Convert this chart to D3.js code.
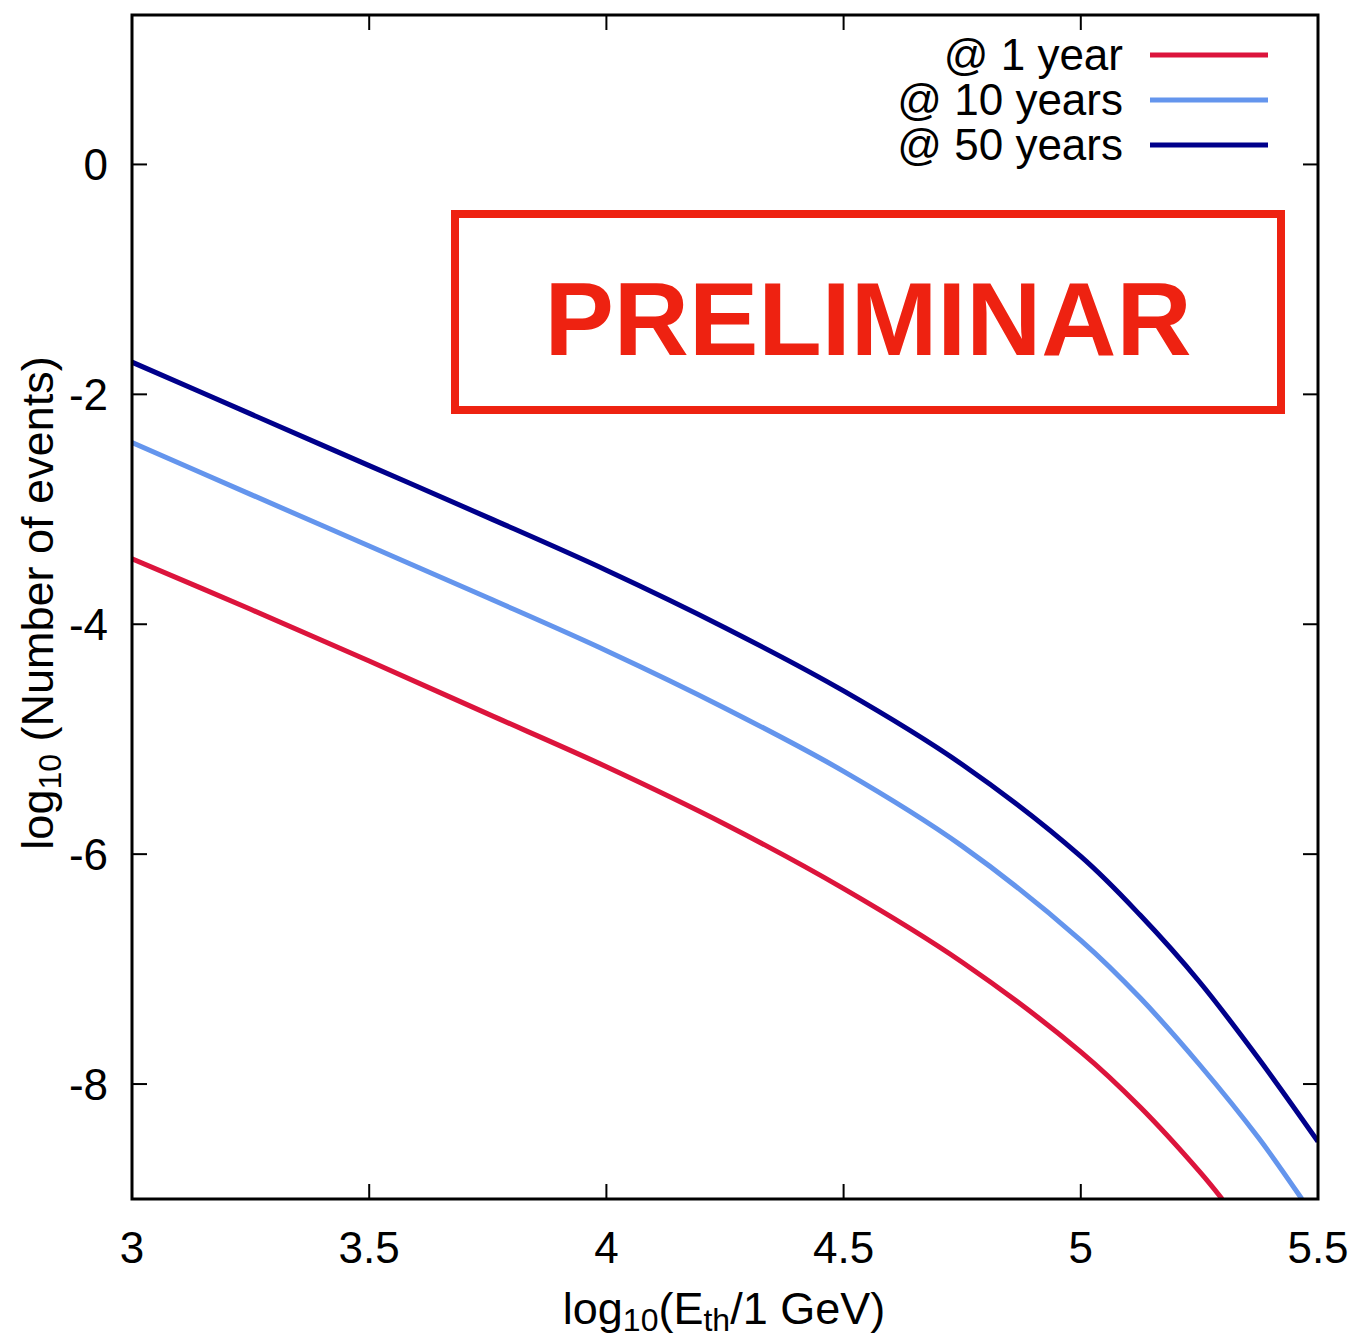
<!DOCTYPE html>
<html>
<head>
<meta charset="utf-8">
<script src="https://cdn.jsdelivr.net/npm/d3@7"></script>
<style>
  body { margin: 0; background: #fff; }
  text { font-family: "Liberation Sans", Arial, Helvetica, sans-serif; }
</style>
</head>
<body>
<div id="chart"></div>
<script>
// values (log10 Eth vs log10 N)
const xs1 = [3.0, 3.25, 3.5, 3.75, 4.0, 4.25, 4.5, 4.75, 5.0, 5.125, 5.25, 5.298];
const yr1 = [-3.43, -3.87, -4.32, -4.78, -5.24, -5.74, -6.30, -6.94, -7.72, -8.20, -8.76, -9.0];

const xs10 = [3.0, 3.25, 3.5, 3.75, 4.0, 4.25, 4.5, 4.75, 5.0, 5.125, 5.25, 5.375, 5.466];
const yr10 = [-2.42, -2.87, -3.32, -3.77, -4.23, -4.73, -5.28, -5.93, -6.75, -7.25, -7.83, -8.47, -9.0];

const xs50 = [3.0, 3.25, 3.5, 3.75, 4.0, 4.25, 4.5, 4.75, 5.0, 5.125, 5.25, 5.375, 5.5];
const yr50 = [-1.72, -2.17, -2.62, -3.07, -3.53, -4.03, -4.58, -5.22, -6.02, -6.53, -7.11, -7.78, -8.5];

const seriesNames = ['@ 1 year', '@ 10 years', '@ 50 years'];
const seriesColors = ['#dc143c', '#6495ed', '#00008b'];

const xTicks = [3, 3.5, 4, 4.5, 5, 5.5];
const yTicks = [0, -2, -4, -6, -8];

const W = 1361, H = 1340;
const m = { left: 132, right: 1318, top: 15, bottom: 1199 };

const svg = d3.select('#chart').append('svg')
    .attr('width', W)
    .attr('height', H);

const x = d3.scaleLinear().domain([3, 5.5]).range([m.left, m.right]);
const y = d3.scaleLinear().domain([-9, 1.3]).range([m.bottom, m.top]);

svg.append('clipPath').attr('id', 'clip')
  .append('rect')
    .attr('x', m.left).attr('y', m.top)
    .attr('width', m.right - m.left).attr('height', m.bottom - m.top);

// ticks (inward, mirrored on top/right)
const tickLen = 15;
const axes = svg.append('g').attr('stroke', '#000').attr('stroke-width', 2);
xTicks.forEach(t => {
    axes.append('line').attr('x1', x(t)).attr('x2', x(t)).attr('y1', m.bottom).attr('y2', m.bottom - tickLen);
    axes.append('line').attr('x1', x(t)).attr('x2', x(t)).attr('y1', m.top).attr('y2', m.top + tickLen);
});
yTicks.forEach(t => {
    axes.append('line').attr('x1', m.left).attr('x2', m.left + tickLen).attr('y1', y(t)).attr('y2', y(t));
    axes.append('line').attr('x1', m.right).attr('x2', m.right - tickLen).attr('y1', y(t)).attr('y2', y(t));
});

// tick labels
svg.append('g').selectAll('text')
    .data(xTicks).enter().append('text')
    .attr('x', d => x(d))
    .attr('y', 1263)
    .attr('text-anchor', 'middle')
    .attr('font-size', 44)
    .text(d => d);

svg.append('g').selectAll('text')
    .data(yTicks).enter().append('text')
    .attr('x', 108)
    .attr('y', d => y(d) + 16)
    .attr('text-anchor', 'end')
    .attr('font-size', 44)
    .text(d => d);

// axis titles
const xt = svg.append('text')
    .attr('x', 724).attr('y', 1324)
    .attr('text-anchor', 'middle')
    .attr('font-size', 45);
xt.append('tspan').text('log');
xt.append('tspan').attr('font-size', 32).attr('dy', 7).text('10');
xt.append('tspan').attr('dy', -7).text('(E');
xt.append('tspan').attr('font-size', 32).attr('dy', 7).text('th');
xt.append('tspan').attr('dy', -7).text('/1 GeV)');

const yt = svg.append('text')
    .attr('transform', 'translate(53,603) rotate(-90)')
    .attr('text-anchor', 'middle')
    .attr('font-size', 45);
yt.append('tspan').text('log');
yt.append('tspan').attr('font-size', 32).attr('dy', 8).text('10');
yt.append('tspan').attr('dy', -8).text(' (Number of events)');

// preliminary stamp
svg.append('rect')
    .attr('x', 455).attr('y', 214)
    .attr('width', 826).attr('height', 196)
    .attr('fill', 'none')
    .attr('stroke', '#ee2211')
    .attr('stroke-width', 8);
svg.append('text')
    .attr('x', 868).attr('y', 355)
    .attr('text-anchor', 'middle')
    .attr('font-size', 104)
    .attr('font-weight', 'bold')
    .attr('fill', '#ee2211')
    .text('PRELIMINAR');

// curves
const series = [
    { xs: xs1, ys: yr1 },
    { xs: xs10, ys: yr10 },
    { xs: xs50, ys: yr50 }
];
const line = d3.line()
    .x(d => x(d[0]))
    .y(d => y(d[1]))
    .curve(d3.curveCatmullRom.alpha(0.5));

series.forEach((s, i) => {
    svg.append('path')
        .attr('clip-path', 'url(#clip)')
        .attr('d', line(d3.zip(s.xs, s.ys)))
        .attr('fill', 'none')
        .attr('stroke', seriesColors[i])
        .attr('stroke-width', 5);
});

// legend
seriesNames.forEach((n, i) => {
    const ly = 55 + i * 45;
    svg.append('text')
        .attr('x', 1123).attr('y', ly + 15)
        .attr('text-anchor', 'end')
        .attr('font-size', 44)
        .text(n);
    svg.append('line')
        .attr('x1', 1150).attr('x2', 1268)
        .attr('y1', ly).attr('y2', ly)
        .attr('stroke', seriesColors[i])
        .attr('stroke-width', 5);
});

// frame
svg.append('rect')
    .attr('x', m.left).attr('y', m.top)
    .attr('width', m.right - m.left).attr('height', m.bottom - m.top)
    .attr('fill', 'none')
    .attr('stroke', '#000')
    .attr('stroke-width', 3);
</script>
</body>
</html>
